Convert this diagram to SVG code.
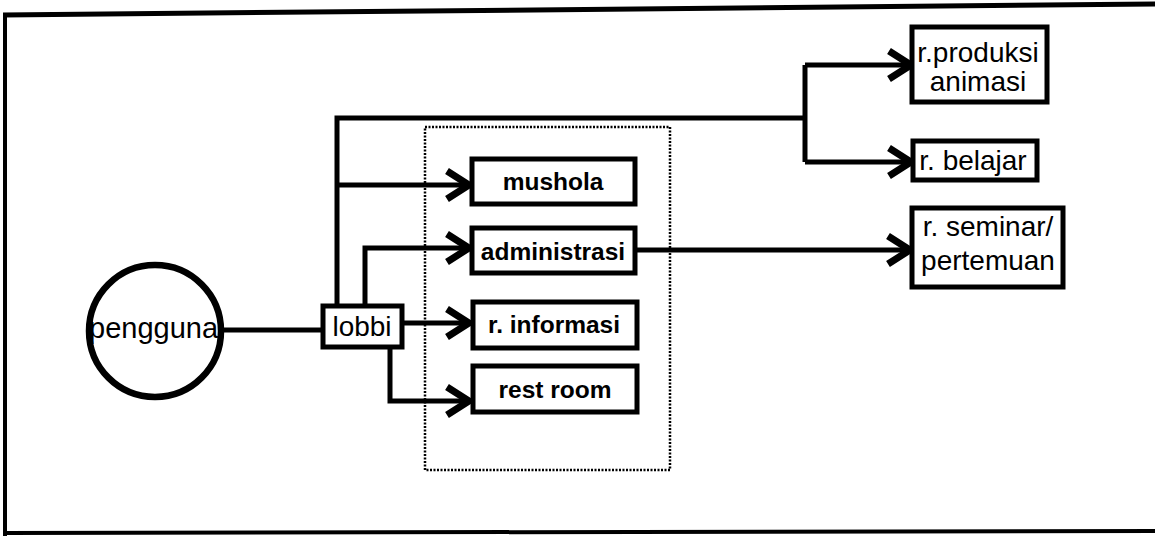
<svg xmlns="http://www.w3.org/2000/svg" width="1155" height="536" viewBox="0 0 1155 536">
<style>
.box{fill:#fff;stroke:#000;stroke-width:5}
.c{fill:none;stroke:#000;stroke-width:5}
.b{font-family:"Liberation Sans",Arial,sans-serif;font-weight:bold;font-size:24.5px;text-anchor:middle;fill:#000}
.r{font-family:"Liberation Sans",Arial,sans-serif;font-size:28px;text-anchor:middle;fill:#000}
</style>
<defs>
<marker id="ah" markerUnits="userSpaceOnUse" viewBox="-30 -20 36 40" refX="0" refY="0" markerWidth="36" markerHeight="40" orient="auto" overflow="visible">
<path d="M-22,-14 L0,0 L-22,14" fill="none" stroke="#000" stroke-width="7" stroke-linejoin="miter"/>
</marker>
</defs>
<rect width="1155" height="536" fill="#fff"/>
<g id="frame">
<path d="M3,15 L1155,4" stroke="#000" stroke-width="5" fill="none"/>
<path d="M5,14 V536" stroke="#000" stroke-width="4" fill="none"/>
<path d="M5,533 L1155,531" stroke="#000" stroke-width="4" fill="none"/>
</g>
<g id="group-box">
<rect x="425" y="127" width="245" height="343" fill="none" stroke="#000" stroke-width="2.5" stroke-dasharray="2 1.5"/>
</g>
<g id="connectors">
<path class="c" d="M222,330 H323"/>
<path class="c" d="M337,306 V118 H805"/>
<path class="c" d="M805,65 V162"/>
<path class="c" d="M805,65 H911" marker-end="url(#ah)"/>
<path class="c" d="M805,162 H911" marker-end="url(#ah)"/>
<path class="c" d="M337,185 H469" marker-end="url(#ah)"/>
<path class="c" d="M365,306 V248 H469" marker-end="url(#ah)"/>
<path class="c" d="M402,323 H469" marker-end="url(#ah)"/>
<path class="c" d="M390,347 V401 H469" marker-end="url(#ah)"/>
<path class="c" d="M635,250 H910" marker-end="url(#ah)"/>
</g>
<g id="pengguna">
<circle cx="155" cy="331" r="66" fill="#fff" stroke="#000" stroke-width="6.5"/>
<text class="r" x="89" y="338" style="text-anchor:start;font-size:29px">pengguna</text>
</g>
<g id="lobbi">
<rect class="box" x="323" y="306" width="79" height="41"/>
<text class="r" x="362" y="336">lobbi</text>
</g>
<g id="mushola">
<rect class="box" x="472" y="159" width="163" height="45"/>
<text class="b" x="553" y="190">mushola</text>
</g>
<g id="administrasi">
<rect class="box" x="472" y="228" width="163" height="45"/>
<text class="b" x="553" y="260">administrasi</text>
</g>
<g id="r-informasi">
<rect class="box" x="473" y="302" width="164" height="46"/>
<text class="b" x="554" y="333">r. informasi</text>
</g>
<g id="rest-room">
<rect class="box" x="473" y="366" width="164" height="46"/>
<text class="b" x="555" y="398">rest room</text>
</g>
<g id="r-produksi">
<rect class="box" x="912" y="27" width="135" height="75"/>
<text class="r" x="978" y="62">r.produksi</text>
<text class="r" x="978" y="91">animasi</text>
</g>
<g id="r-belajar">
<rect class="box" x="913" y="141" width="124" height="39"/>
<text class="r" x="973" y="170">r. belajar</text>
</g>
<g id="r-seminar">
<rect class="box" x="912" y="208" width="151" height="79"/>
<text class="r" x="988" y="236">r. seminar/</text>
<text class="r" x="988" y="270">pertemuan</text>
</g>
</svg>
